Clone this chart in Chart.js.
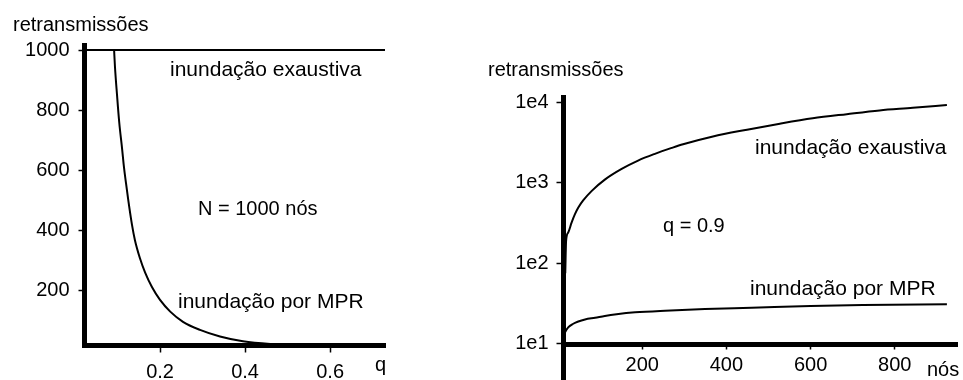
<!DOCTYPE html>
<html lang="pt">
<head>
<meta charset="UTF-8">
<title>Retransmissões</title>
<script src="https://cdn.jsdelivr.net/npm/chart.js"></script>
<style>
  html, body { margin: 0; padding: 0; background: #fff; }
  .wrap { position: relative; width: 963px; height: 380px; overflow: hidden; }
  #left { position: absolute; left: 0; top: 0; }
  #right { position: absolute; left: 480px; top: 0; }
</style>
</head>
<body>
<div class="wrap">
  <canvas id="left" width="430" height="380"></canvas>
  <canvas id="right" width="483" height="380"></canvas>
</div>
<script>
// left chart: N = 1000 nodes, retransmissions vs q
const qValues = [0.092, 0.094, 0.099, 0.104, 0.111, 0.115, 0.12, 0.125, 0.134, 0.141, 0.153, 0.165, 0.181, 0.2, 0.224, 0.254, 0.294, 0.341, 0.395, 0.459, 0.55, 0.65, 0.73];
const mprByQ = [1000, 945, 848, 760, 668, 612, 556, 503, 418, 366, 305, 258, 210, 167, 128, 94, 67, 45, 29, 20, 15, 13, 12];
const exhQ = [0.02, 0.73];
const exhByQ = [1000, 1000];
const leftXTicks = [0.2, 0.4, 0.6];
const leftYTicks = [200, 400, 600, 800, 1000];

// right chart: q = 0.9, retransmissions vs number of nodes (log scale)
const nodesExh = [17, 19, 24, 32, 40, 48, 60, 80, 111, 151, 190, 230, 270, 297, 368, 449, 527, 605, 686, 764, 843, 924];
const exhByNodes = [75, 190, 240, 318, 405, 490, 605, 790, 1090, 1480, 1880, 2280, 2700, 3000, 3750, 4550, 5400, 6300, 7100, 7900, 8500, 9250];
const nodesMpr = [12.5, 16.4, 24, 36, 48, 64, 88, 111, 139, 183, 254, 349, 460, 600, 724, 924];
const mprByNodes = [12.2, 13.8, 15.9, 17.6, 18.8, 19.9, 20.9, 22, 23.1, 24.4, 25.6, 26.8, 27.8, 29.2, 30.1, 30.8];
const rightXTicks = [200, 400, 600, 800];
const rightYTicks = [10, 100, 1000, 10000];
const rightYLabels = ['1e1', '1e2', '1e3', '1e4'];

const FONT = '"Liberation Sans", Arial, sans-serif';
Chart.defaults.font.family = FONT;
Chart.defaults.font.size = 20;
Chart.defaults.color = '#000';

function points(xs, ys) {
    return xs.map((x, i) => ({ x: x, y: ys[i] }));
}

function lineSet(data) {
    return {
        data: data,
        borderColor: '#000',
        borderWidth: 2,
        pointRadius: 0,
        fill: false,
        cubicInterpolationMode: 'monotone'
    };
}

// free text drawn on the canvas
function notes(items) {
    return {
        id: 'notes',
        afterDraw(chart) {
            const ctx = chart.ctx;
            ctx.save();
            ctx.fillStyle = '#000';
            ctx.textAlign = 'left';
            ctx.textBaseline = 'alphabetic';
            items.forEach(t => {
                ctx.font = t.size + 'px ' + FONT;
                ctx.fillText(t.text, t.x, t.y);
            });
            ctx.restore();
        }
    };
}

// right chart's y axis runs down past the x axis
const axisTail = {
    id: 'axisTail',
    afterDraw(chart) {
        const ctx = chart.ctx;
        const a = chart.chartArea;
        ctx.save();
        ctx.strokeStyle = '#000';
        ctx.lineWidth = 5;
        ctx.beginPath();
        ctx.moveTo(a.left, a.bottom);
        ctx.lineTo(a.left, chart.height);
        ctx.stroke();
        ctx.restore();
    }
};

function axisGrid(len) {
    return { drawOnChartArea: false, drawTicks: true, tickLength: len, tickWidth: 1.5, tickColor: '#000', color: '#000' };
}

new Chart(document.getElementById('left'), {
    type: 'line',
    data: {
        datasets: [
            lineSet(points(exhQ, exhByQ)),
            lineSet(points(qValues, mprByQ))
        ]
    },
    options: {
        responsive: false,
        animation: false,
        layout: { padding: { top: 45, right: 45, left: 0, bottom: 0 } },
        plugins: { legend: { display: false }, tooltip: { enabled: false } },
        scales: {
            x: {
                type: 'linear',
                min: 0.0224,
                max: 0.729,
                afterBuildTicks: s => { s.ticks = leftXTicks.map(v => ({ value: v })); },
                afterFit: s => { s.height = 34.5; },
                ticks: { padding: 8, maxRotation: 0, autoSkip: false, callback: v => v.toFixed(1) },
                grid: axisGrid(7),
                border: { display: true, width: 5, color: '#000' }
            },
            y: {
                type: 'linear',
                min: 15,
                max: 1016.7,
                afterBuildTicks: s => { s.ticks = leftYTicks.map(v => ({ value: v })); },
                afterFit: s => { s.width = 84.5; },
                ticks: { padding: 9, autoSkip: false, callback: v => String(v) },
                grid: axisGrid(6),
                border: { display: true, width: 5, color: '#000' }
            }
        }
    },
    plugins: [notes([
        { text: 'retransmissões', x: 13, y: 31, size: 20 },
        { text: 'inundação exaustiva', x: 170, y: 76, size: 21 },
        { text: 'N = 1000 nós', x: 198, y: 215, size: 20 },
        { text: 'inundação por MPR', x: 178, y: 308, size: 21 },
        { text: 'q', x: 375, y: 371, size: 20 }
    ])]
});

new Chart(document.getElementById('right'), {
    type: 'line',
    data: {
        datasets: [
            lineSet(points(nodesExh, exhByNodes)),
            lineSet(points(nodesMpr, mprByNodes))
        ]
    },
    options: {
        responsive: false,
        animation: false,
        layout: { padding: { top: 97, right: 6, left: 0, bottom: 0 } },
        plugins: { legend: { display: false }, tooltip: { enabled: false } },
        scales: {
            x: {
                type: 'linear',
                min: 12.8,
                max: 948,
                afterBuildTicks: s => { s.ticks = rightXTicks.map(v => ({ value: v })); },
                afterFit: s => { s.height = 35.5; },
                ticks: { padding: 4, maxRotation: 0, autoSkip: false },
                grid: axisGrid(5),
                border: { display: true, width: 5, color: '#000' }
            },
            y: {
                type: 'logarithmic',
                min: 9.72,
                max: 11600,
                afterBuildTicks: s => { s.ticks = rightYTicks.map(v => ({ value: v })); },
                afterFit: s => { s.width = 83.5; },
                ticks: { padding: 8, autoSkip: false, callback: v => rightYLabels[rightYTicks.indexOf(v)] },
                grid: axisGrid(7),
                border: { display: true, width: 5, color: '#000' }
            }
        }
    },
    plugins: [axisTail, notes([
        { text: 'retransmissões', x: 8, y: 76, size: 20 },
        { text: 'inundação exaustiva', x: 275, y: 154, size: 21 },
        { text: 'q = 0.9', x: 183, y: 232, size: 20 },
        { text: 'inundação por MPR', x: 270, y: 295, size: 21 },
        { text: 'nós', x: 447, y: 376, size: 20 }
    ])]
});
</script>
</body>
</html>
